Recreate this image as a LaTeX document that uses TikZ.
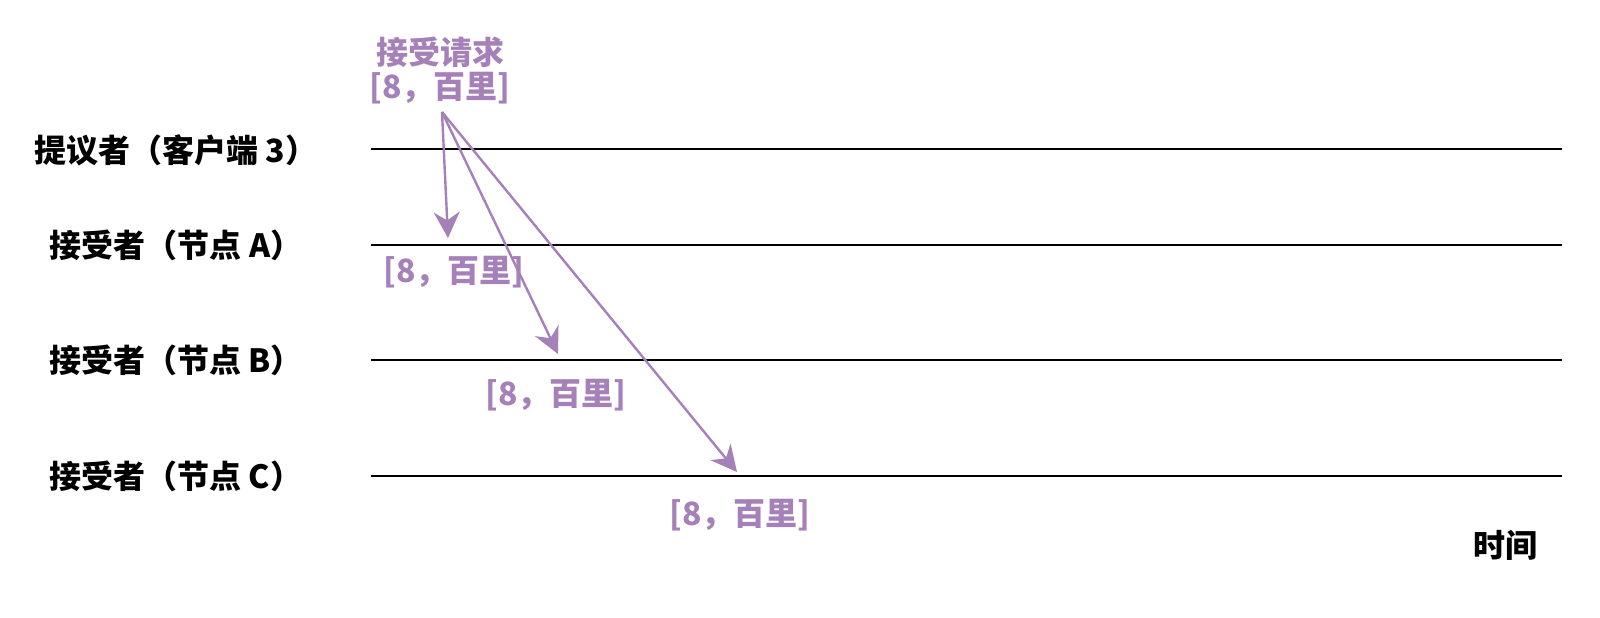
\documentclass[tikz,border=0pt]{standalone}
\usepackage{fontspec}
\setmainfont{Noto Sans CJK SC}
\usetikzlibrary{arrows.meta}
\definecolor{msgpurple}{HTML}{A680B8}

\begin{document}
\begin{tikzpicture}[x=0.5pt,y=-0.5pt,
    lane/.style={line width=1pt},
    msg/.style={draw=msgpurple,line width=1.2pt,-{Stealth[length=13pt,width=13pt]}},
    who/.style={font=\fontsize{16}{20}\selectfont\bfseries},
    val/.style={who,text=msgpurple}]
          \useasboundingbox (0,0) rectangle (1600,617);
          \node[who] (prop) at (176,150) {提议者（客户端 3）};
          \coordinate (lprop) at (371,149);
          \coordinate (rprop) at (1562,149);
          \draw[lane] (lprop) -- (rprop);
          \foreach \i/\y in {A/245,B/360,C/476}{
            \node[who] (acc\i) at (176,\y) {接受者（节点 \i）};
            \coordinate (l\i) at (371,\y);
            \coordinate (r\i) at (1562,\y);
            \draw[lane] (l\i) -- (r\i);}
          \node[val] (req) at (440,52) {接受请求};
          \node[val] (reqv) at (440,88) {[8，百里]};
          \coordinate (fork) at (442,112);
          \foreach \i/\tx/\ty/\lx/\ly in {A/448/238/454/272,B/558/354/556/395,C/737/472/740/515}{
            \coordinate (tip\i) at (\tx,\ty);
            \draw[msg] (fork) -- (tip\i);
            \node[val] (got\i) at (\lx,\ly) {[8，百里]};}
          \node[who] (time) at (1505,545) {时间};
        \end{tikzpicture}
\end{document}
